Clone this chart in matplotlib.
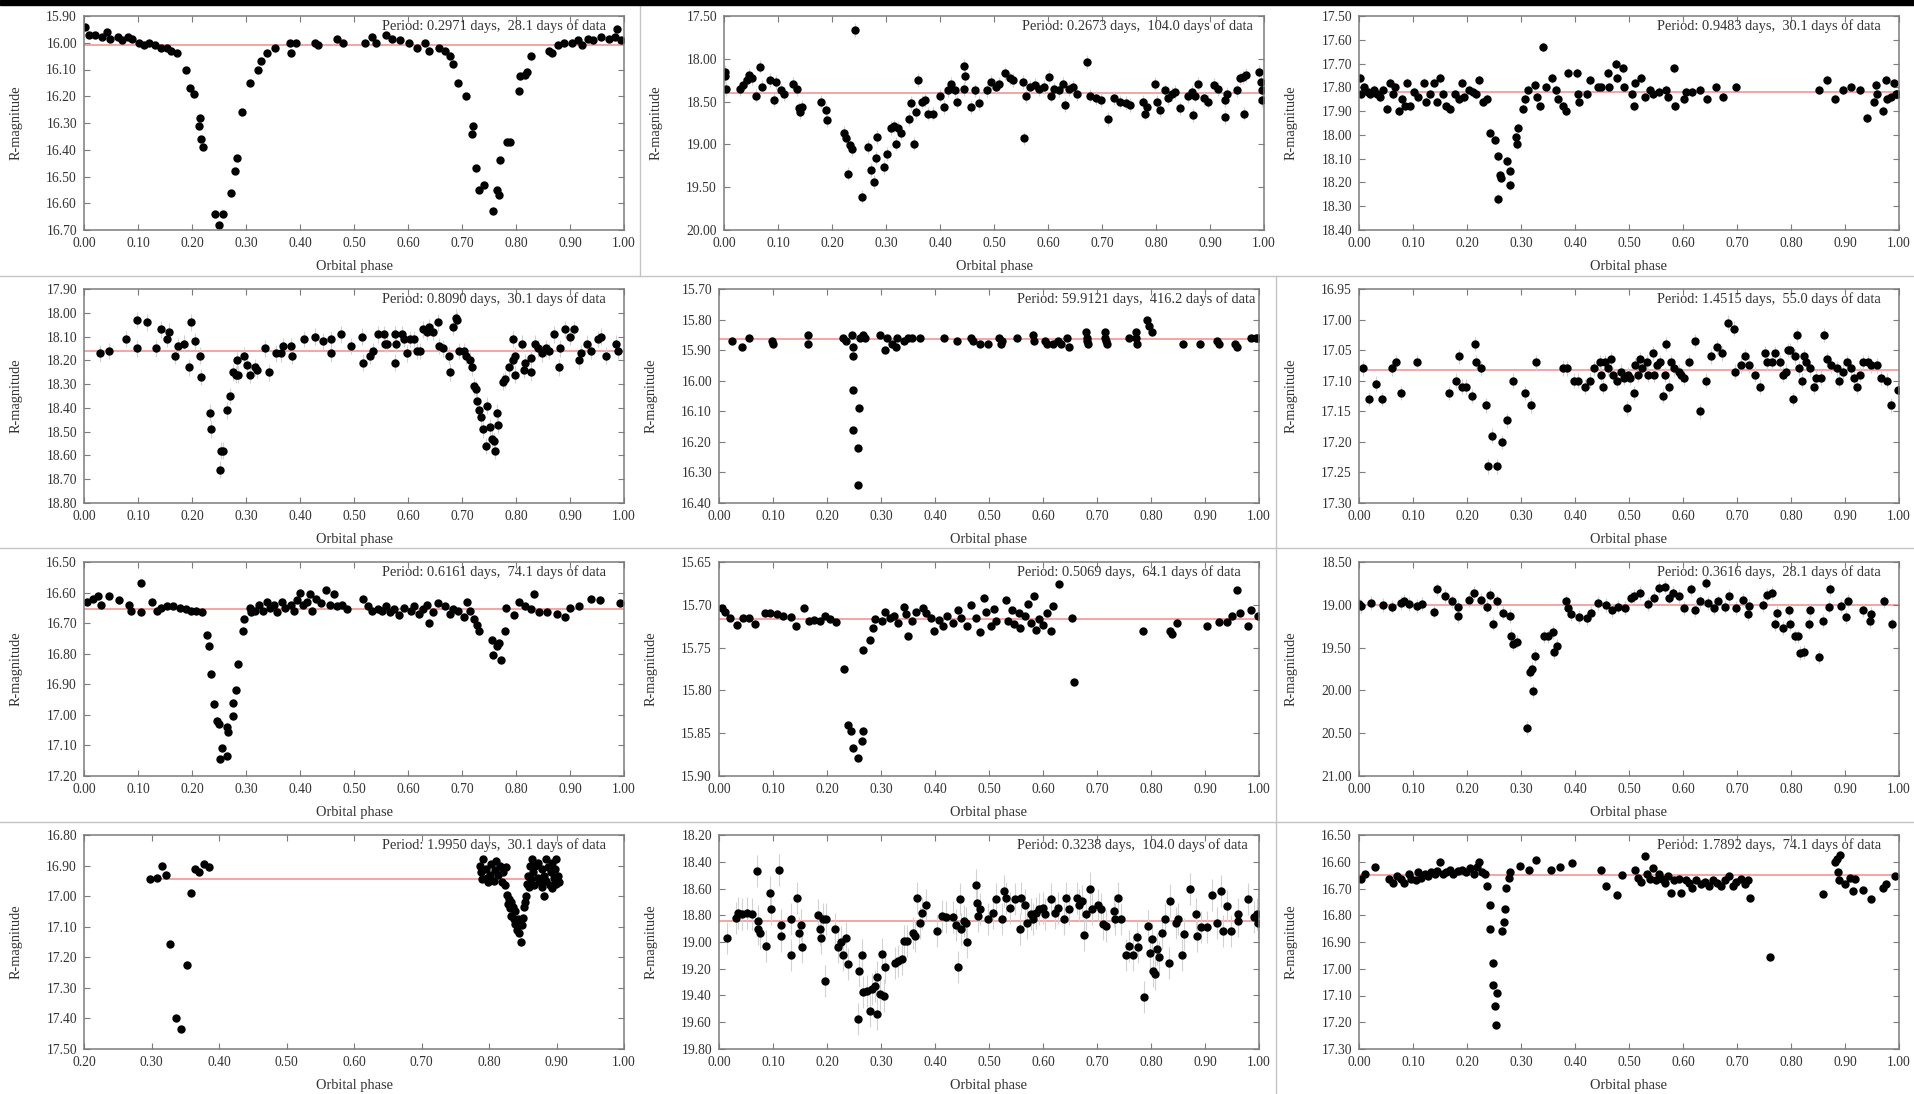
import numpy as np
import matplotlib.pyplot as plt
from matplotlib.lines import Line2D
from matplotlib.patches import Rectangle
from matplotlib.ticker import FormatStrFormatter

plt.rcParams['font.family'] = ['Liberation Serif', 'DejaVu Serif']

# folded light curves: (orbital phase, R magnitude)
curve_1 = [(0.002, 15.94), (0.010, 15.97), (0.021, 15.97), (0.033, 15.98), (0.042, 15.96), (0.048, 15.985),
           (0.063, 15.98), (0.070, 15.99), (0.082, 15.98), (0.089, 15.985), (0.101, 16.00), (0.112, 16.01),
           (0.120, 16.00), (0.131, 16.01), (0.142, 16.02), (0.154, 16.02), (0.161, 16.03), (0.173, 16.04),
           (0.188, 16.10), (0.197, 16.17), (0.203, 16.19), (0.214, 16.28), (0.213, 16.31), (0.216, 16.36),
           (0.220, 16.39), (0.242, 16.64), (0.250, 16.68), (0.258, 16.64), (0.273, 16.56), (0.279, 16.48),
           (0.284, 16.43), (0.292, 16.26), (0.307, 16.15), (0.323, 16.10), (0.328, 16.07), (0.338, 16.04),
           (0.353, 16.02), (0.381, 16.00), (0.383, 16.04), (0.392, 16.00), (0.427, 16.00), (0.434, 16.01),
           (0.468, 15.985), (0.480, 16.00), (0.521, 16.00), (0.533, 15.98), (0.540, 16.00), (0.559, 15.97),
           (0.570, 15.985), (0.586, 15.99), (0.601, 16.00), (0.616, 16.02), (0.631, 16.00), (0.639, 16.03),
           (0.658, 16.02), (0.669, 16.03), (0.677, 16.05), (0.684, 16.08), (0.692, 16.15), (0.707, 16.20),
           (0.720, 16.31), (0.718, 16.34), (0.726, 16.47), (0.731, 16.55), (0.741, 16.53), (0.758, 16.63),
           (0.764, 16.55), (0.769, 16.57), (0.771, 16.44), (0.783, 16.37), (0.789, 16.37), (0.805, 16.18),
           (0.807, 16.125), (0.817, 16.12), (0.820, 16.11), (0.828, 16.05), (0.862, 16.03), (0.866, 16.04),
           (0.877, 16.01), (0.889, 16.00), (0.904, 16.00), (0.915, 15.99), (0.923, 16.01), (0.934, 15.985),
           (0.942, 15.99), (0.957, 15.98), (0.972, 15.985), (0.983, 15.98), (0.987, 15.95), (0.995, 15.99)]

curve_2 = [(0.001, 18.15), (0.002, 18.20), (0.004, 18.35), (0.029, 18.35), (0.036, 18.31), (0.042, 18.25),
           (0.046, 18.19), (0.052, 18.23), (0.059, 18.43), (0.067, 18.09), (0.070, 18.33), (0.086, 18.25),
           (0.092, 18.48), (0.097, 18.27), (0.105, 18.37), (0.112, 18.41), (0.127, 18.29), (0.135, 18.35),
           (0.139, 18.58), (0.140, 18.62), (0.145, 18.56), (0.180, 18.50), (0.188, 18.60), (0.190, 18.72),
           (0.222, 18.87), (0.226, 18.93), (0.233, 19.01), (0.237, 19.05), (0.230, 19.34), (0.243, 17.66),
           (0.256, 19.61), (0.267, 19.03), (0.273, 19.30), (0.277, 19.44), (0.281, 19.16), (0.283, 18.91),
           (0.296, 19.26), (0.302, 19.11), (0.309, 18.81), (0.315, 18.79), (0.319, 18.99), (0.322, 18.81),
           (0.328, 18.87), (0.343, 18.70), (0.347, 18.52), (0.351, 18.99), (0.355, 18.62), (0.360, 18.25),
           (0.366, 18.50), (0.373, 18.48), (0.377, 18.64), (0.387, 18.64), (0.400, 18.43), (0.408, 18.56),
           (0.415, 18.37), (0.420, 18.29), (0.427, 18.37), (0.432, 18.50), (0.445, 18.08), (0.447, 18.20),
           (0.444, 18.35), (0.458, 18.56), (0.464, 18.37), (0.472, 18.52), (0.487, 18.37), (0.495, 18.27),
           (0.503, 18.33), (0.510, 18.29), (0.521, 18.17), (0.529, 18.23), (0.536, 18.25), (0.553, 18.27),
           (0.555, 18.93), (0.559, 18.44), (0.567, 18.33), (0.575, 18.31), (0.583, 18.35), (0.593, 18.33),
           (0.601, 18.21), (0.605, 18.43), (0.612, 18.35), (0.620, 18.37), (0.627, 18.29), (0.631, 18.54),
           (0.639, 18.35), (0.646, 18.33), (0.654, 18.41), (0.673, 18.04), (0.677, 18.43), (0.688, 18.46),
           (0.699, 18.48), (0.711, 18.70), (0.722, 18.46), (0.733, 18.50), (0.745, 18.52), (0.752, 18.54),
           (0.775, 18.50), (0.780, 18.64), (0.783, 18.56), (0.798, 18.29), (0.802, 18.50), (0.807, 18.60),
           (0.817, 18.37), (0.823, 18.46), (0.830, 18.41), (0.836, 18.39), (0.845, 18.58), (0.859, 18.44),
           (0.866, 18.39), (0.868, 18.66), (0.873, 18.43), (0.877, 18.29), (0.889, 18.46), (0.897, 18.50),
           (0.908, 18.31), (0.915, 18.35), (0.927, 18.68), (0.928, 18.48), (0.932, 18.41), (0.950, 18.37),
           (0.955, 18.23), (0.961, 18.21), (0.963, 18.64), (0.966, 18.19), (0.990, 18.15), (0.995, 18.27),
           (0.996, 18.37), (0.997, 18.48)]

curve_3 = [(0.001, 17.76), (0.004, 17.83), (0.010, 17.80), (0.016, 17.82), (0.021, 17.83), (0.027, 17.81),
           (0.033, 17.83), (0.039, 17.84), (0.044, 17.81), (0.052, 17.89), (0.057, 17.78), (0.063, 17.83),
           (0.067, 17.80), (0.074, 17.90), (0.080, 17.85), (0.086, 17.88), (0.089, 17.78), (0.095, 17.88),
           (0.101, 17.82), (0.110, 17.84), (0.120, 17.78), (0.125, 17.86), (0.131, 17.83), (0.139, 17.78),
           (0.145, 17.86), (0.150, 17.76), (0.155, 17.83), (0.161, 17.88), (0.169, 17.89), (0.177, 17.83),
           (0.186, 17.85), (0.190, 17.78), (0.195, 17.84), (0.203, 17.81), (0.211, 17.82), (0.216, 17.83),
           (0.223, 17.77), (0.230, 17.86), (0.237, 17.85), (0.243, 17.99), (0.251, 18.02), (0.258, 18.09),
           (0.261, 18.17), (0.263, 18.18), (0.258, 18.27), (0.275, 18.11), (0.280, 18.15), (0.279, 18.21),
           (0.290, 18.01), (0.292, 18.04), (0.295, 17.97), (0.304, 17.89), (0.307, 17.85), (0.313, 17.81),
           (0.326, 17.79), (0.330, 17.84), (0.336, 17.88), (0.341, 17.63), (0.347, 17.80), (0.357, 17.76),
           (0.365, 17.81), (0.369, 17.85), (0.377, 17.88), (0.383, 17.90), (0.387, 17.74), (0.404, 17.74),
           (0.405, 17.83), (0.408, 17.86), (0.423, 17.83), (0.428, 17.77), (0.442, 17.80), (0.449, 17.80),
           (0.461, 17.74), (0.463, 17.80), (0.476, 17.70), (0.477, 17.76), (0.489, 17.72), (0.491, 17.80),
           (0.506, 17.83), (0.510, 17.88), (0.511, 17.78), (0.523, 17.76), (0.529, 17.84), (0.539, 17.81),
           (0.544, 17.83), (0.555, 17.82), (0.569, 17.81), (0.572, 17.84), (0.584, 17.72), (0.586, 17.88),
           (0.601, 17.85), (0.605, 17.82), (0.616, 17.82), (0.631, 17.81), (0.645, 17.85), (0.661, 17.80),
           (0.674, 17.84), (0.699, 17.80), (0.851, 17.81), (0.866, 17.77), (0.881, 17.85), (0.896, 17.81),
           (0.911, 17.80), (0.927, 17.81), (0.940, 17.93), (0.953, 17.86), (0.958, 17.79), (0.960, 17.83),
           (0.970, 17.90), (0.976, 17.77), (0.978, 17.85), (0.986, 17.84), (0.991, 17.78), (0.994, 17.83),
           (0.996, 17.83)]

curve_4 = [(0.029, 18.17), (0.046, 18.16), (0.078, 18.11), (0.098, 18.03), (0.099, 18.15), (0.116, 18.04),
           (0.133, 18.15), (0.142, 18.07), (0.154, 18.11), (0.158, 18.08), (0.169, 18.18), (0.174, 18.14),
           (0.186, 18.13), (0.194, 18.23), (0.199, 18.04), (0.205, 18.12), (0.214, 18.18), (0.217, 18.27),
           (0.233, 18.42), (0.235, 18.49), (0.251, 18.66), (0.254, 18.58), (0.258, 18.58), (0.264, 18.41),
           (0.270, 18.35), (0.275, 18.25), (0.281, 18.26), (0.284, 18.20), (0.286, 18.26), (0.296, 18.18),
           (0.302, 18.22), (0.307, 18.26), (0.317, 18.23), (0.320, 18.24), (0.336, 18.15), (0.343, 18.25),
           (0.355, 18.17), (0.364, 18.17), (0.368, 18.14), (0.383, 18.14), (0.385, 18.18), (0.408, 18.11),
           (0.427, 18.10), (0.442, 18.12), (0.457, 18.17), (0.458, 18.11), (0.476, 18.09), (0.495, 18.14),
           (0.514, 18.10), (0.517, 18.21), (0.530, 18.18), (0.536, 18.16), (0.545, 18.09), (0.555, 18.09),
           (0.557, 18.13), (0.561, 18.13), (0.575, 18.09), (0.576, 18.21), (0.578, 18.13), (0.589, 18.09),
           (0.593, 18.11), (0.599, 18.17), (0.603, 18.11), (0.612, 18.11), (0.616, 18.16), (0.623, 18.16),
           (0.627, 18.07), (0.635, 18.08), (0.639, 18.06), (0.646, 18.08), (0.655, 18.04), (0.658, 18.14),
           (0.665, 18.15), (0.675, 18.18), (0.677, 18.25), (0.684, 18.06), (0.688, 18.02), (0.690, 18.03),
           (0.695, 18.16), (0.703, 18.16), (0.708, 18.18), (0.714, 18.20), (0.718, 18.23), (0.722, 18.31),
           (0.726, 18.32), (0.728, 18.37), (0.731, 18.41), (0.736, 18.44), (0.739, 18.49), (0.744, 18.56),
           (0.747, 18.39), (0.751, 18.48), (0.756, 18.53), (0.760, 18.54), (0.762, 18.58), (0.765, 18.42),
           (0.767, 18.47), (0.775, 18.29), (0.780, 18.28), (0.787, 18.23), (0.794, 18.20), (0.795, 18.11),
           (0.798, 18.26), (0.799, 18.18), (0.811, 18.13), (0.815, 18.24), (0.817, 18.21), (0.827, 18.25),
           (0.828, 18.19), (0.836, 18.13), (0.840, 18.15), (0.849, 18.17), (0.855, 18.15), (0.861, 18.16),
           (0.870, 18.09), (0.880, 18.23), (0.882, 18.15), (0.890, 18.07), (0.900, 18.10), (0.908, 18.07),
           (0.917, 18.20), (0.920, 18.17), (0.932, 18.13), (0.939, 18.16), (0.951, 18.11), (0.957, 18.10),
           (0.967, 18.18), (0.986, 18.13), (0.989, 18.16)]

curve_5 = [(0.024, 15.87), (0.042, 15.89), (0.056, 15.86), (0.098, 15.87), (0.100, 15.88), (0.164, 15.85),
           (0.164, 15.88), (0.230, 15.86), (0.236, 15.87), (0.246, 15.85), (0.248, 15.89), (0.249, 15.92),
           (0.249, 16.03), (0.259, 16.09), (0.249, 16.16), (0.258, 16.22), (0.257, 16.34), (0.261, 15.86),
           (0.267, 15.85), (0.270, 15.86), (0.299, 15.85), (0.308, 15.90), (0.312, 15.86), (0.320, 15.88),
           (0.327, 15.89), (0.330, 15.86), (0.342, 15.87), (0.350, 15.86), (0.358, 15.86), (0.373, 15.86),
           (0.416, 15.86), (0.441, 15.87), (0.467, 15.86), (0.471, 15.87), (0.483, 15.88), (0.498, 15.88),
           (0.519, 15.86), (0.522, 15.88), (0.524, 15.87), (0.551, 15.86), (0.581, 15.85), (0.583, 15.87),
           (0.604, 15.87), (0.608, 15.88), (0.619, 15.88), (0.627, 15.87), (0.634, 15.88), (0.645, 15.86),
           (0.648, 15.89), (0.680, 15.84), (0.682, 15.86), (0.684, 15.88), (0.681, 15.87), (0.714, 15.84),
           (0.716, 15.87), (0.718, 15.88), (0.715, 15.86), (0.759, 15.86), (0.772, 15.84), (0.774, 15.88),
           (0.773, 15.86), (0.793, 15.80), (0.797, 15.82), (0.801, 15.84), (0.860, 15.88), (0.890, 15.88),
           (0.922, 15.87), (0.926, 15.88), (0.956, 15.88), (0.960, 15.89), (0.986, 15.86), (0.994, 15.86),
           (0.999, 15.86)]

curve_6 = [(0.008, 17.08), (0.019, 17.13), (0.031, 17.105), (0.042, 17.13), (0.061, 17.08), (0.069, 17.07),
           (0.078, 17.12), (0.108, 17.07), (0.167, 17.12), (0.179, 17.10), (0.186, 17.06), (0.190, 17.11),
           (0.199, 17.11), (0.209, 17.125), (0.214, 17.04), (0.217, 17.07), (0.226, 17.08), (0.236, 17.14),
           (0.239, 17.24), (0.246, 17.19), (0.256, 17.24), (0.265, 17.20), (0.275, 17.165), (0.286, 17.10),
           (0.308, 17.12), (0.318, 17.14), (0.327, 17.07), (0.377, 17.08), (0.385, 17.08), (0.398, 17.10),
           (0.405, 17.10), (0.419, 17.11), (0.427, 17.10), (0.436, 17.08), (0.446, 17.07), (0.449, 17.09),
           (0.451, 17.11), (0.456, 17.07), (0.462, 17.08), (0.466, 17.065), (0.470, 17.09), (0.478, 17.10),
           (0.486, 17.085), (0.491, 17.095), (0.497, 17.145), (0.499, 17.09), (0.502, 17.095), (0.510, 17.12),
           (0.511, 17.075), (0.517, 17.09), (0.521, 17.065), (0.525, 17.08), (0.533, 17.07), (0.536, 17.09),
           (0.544, 17.055), (0.547, 17.09), (0.551, 17.075), (0.558, 17.07), (0.563, 17.125), (0.567, 17.09),
           (0.569, 17.04), (0.574, 17.11), (0.578, 17.07), (0.584, 17.08), (0.592, 17.085), (0.597, 17.09),
           (0.601, 17.095), (0.612, 17.07), (0.622, 17.035), (0.631, 17.15), (0.643, 17.10), (0.652, 17.06),
           (0.663, 17.045), (0.673, 17.055), (0.684, 17.005), (0.695, 17.015), (0.697, 17.085), (0.707, 17.075),
           (0.714, 17.06), (0.723, 17.075), (0.733, 17.09), (0.743, 17.11), (0.752, 17.055), (0.756, 17.07),
           (0.764, 17.07), (0.771, 17.055), (0.779, 17.07), (0.786, 17.09), (0.790, 17.085), (0.794, 17.05),
           (0.799, 17.05), (0.804, 17.13), (0.807, 17.06), (0.811, 17.025), (0.814, 17.08), (0.820, 17.10),
           (0.824, 17.06), (0.828, 17.07), (0.836, 17.08), (0.843, 17.11), (0.847, 17.095), (0.855, 17.095),
           (0.862, 17.025), (0.866, 17.065), (0.874, 17.075), (0.885, 17.08), (0.889, 17.10), (0.896, 17.085),
           (0.904, 17.07), (0.911, 17.08), (0.917, 17.095), (0.923, 17.11), (0.928, 17.09), (0.934, 17.07),
           (0.942, 17.07), (0.949, 17.075), (0.960, 17.075), (0.967, 17.095), (0.977, 17.10), (0.986, 17.14),
           (0.998, 17.115)]

curve_7 = [(0.006, 16.63), (0.017, 16.62), (0.025, 16.61), (0.031, 16.64), (0.046, 16.61), (0.064, 16.625),
           (0.084, 16.64), (0.087, 16.66), (0.105, 16.57), (0.105, 16.665), (0.125, 16.63), (0.135, 16.66),
           (0.142, 16.65), (0.154, 16.645), (0.165, 16.645), (0.177, 16.65), (0.188, 16.655), (0.199, 16.66),
           (0.207, 16.66), (0.218, 16.665), (0.228, 16.74), (0.231, 16.775), (0.236, 16.865), (0.241, 16.965),
           (0.246, 17.02), (0.250, 17.03), (0.252, 17.145), (0.256, 17.11), (0.264, 17.135), (0.265, 17.04),
           (0.267, 17.055), (0.275, 17.005), (0.276, 16.96), (0.281, 16.92), (0.286, 16.835), (0.295, 16.725),
           (0.296, 16.685), (0.307, 16.65), (0.309, 16.665), (0.317, 16.66), (0.324, 16.64), (0.332, 16.66),
           (0.339, 16.63), (0.345, 16.65), (0.352, 16.64), (0.358, 16.665), (0.366, 16.63), (0.373, 16.65),
           (0.383, 16.64), (0.389, 16.66), (0.395, 16.625), (0.400, 16.60), (0.405, 16.64), (0.413, 16.63),
           (0.419, 16.605), (0.423, 16.66), (0.430, 16.62), (0.438, 16.635), (0.449, 16.59), (0.455, 16.64),
           (0.463, 16.605), (0.468, 16.645), (0.478, 16.64), (0.487, 16.655), (0.516, 16.62), (0.525, 16.645),
           (0.534, 16.66), (0.544, 16.655), (0.552, 16.66), (0.559, 16.645), (0.567, 16.665), (0.574, 16.655),
           (0.584, 16.675), (0.593, 16.65), (0.605, 16.66), (0.612, 16.645), (0.620, 16.67), (0.627, 16.655),
           (0.635, 16.64), (0.639, 16.70), (0.646, 16.665), (0.655, 16.635), (0.669, 16.645), (0.677, 16.67),
           (0.684, 16.655), (0.692, 16.66), (0.703, 16.68), (0.709, 16.63), (0.714, 16.66), (0.722, 16.685),
           (0.728, 16.705), (0.731, 16.725), (0.756, 16.755), (0.757, 16.805), (0.764, 16.775), (0.769, 16.765),
           (0.773, 16.82), (0.779, 16.725), (0.781, 16.65), (0.796, 16.675), (0.805, 16.63), (0.817, 16.645),
           (0.827, 16.655), (0.834, 16.605), (0.843, 16.665), (0.858, 16.665), (0.875, 16.67), (0.890, 16.68),
           (0.900, 16.65), (0.917, 16.645), (0.938, 16.62), (0.955, 16.625), (0.993, 16.635)]

curve_8 = [(0.005, 15.704), (0.011, 15.708), (0.020, 15.715), (0.034, 15.724), (0.045, 15.715), (0.055, 15.715),
           (0.067, 15.723), (0.085, 15.709), (0.095, 15.709), (0.108, 15.711), (0.119, 15.713), (0.133, 15.714),
           (0.142, 15.725), (0.157, 15.704), (0.166, 15.719), (0.176, 15.718), (0.187, 15.719), (0.196, 15.713),
           (0.206, 15.717), (0.217, 15.720), (0.231, 15.775), (0.239, 15.840), (0.244, 15.848), (0.248, 15.867),
           (0.257, 15.879), (0.265, 15.859), (0.266, 15.848), (0.267, 15.753), (0.280, 15.741), (0.286, 15.727),
           (0.289, 15.717), (0.301, 15.719), (0.307, 15.708), (0.316, 15.715), (0.324, 15.713), (0.331, 15.721),
           (0.342, 15.702), (0.346, 15.711), (0.350, 15.736), (0.358, 15.719), (0.365, 15.708), (0.377, 15.704),
           (0.384, 15.709), (0.393, 15.715), (0.398, 15.731), (0.407, 15.718), (0.414, 15.725), (0.422, 15.713),
           (0.433, 15.721), (0.443, 15.706), (0.448, 15.716), (0.460, 15.725), (0.467, 15.700), (0.475, 15.715),
           (0.484, 15.732), (0.490, 15.692), (0.494, 15.708), (0.504, 15.725), (0.509, 15.705), (0.513, 15.719),
           (0.532, 15.694), (0.536, 15.719), (0.543, 15.706), (0.547, 15.723), (0.555, 15.709), (0.558, 15.727),
           (0.566, 15.713), (0.573, 15.699), (0.577, 15.721), (0.583, 15.690), (0.587, 15.729), (0.592, 15.717),
           (0.600, 15.724), (0.608, 15.709), (0.615, 15.731), (0.619, 15.701), (0.630, 15.676), (0.653, 15.716),
           (0.658, 15.790), (0.786, 15.731), (0.835, 15.731), (0.839, 15.734), (0.848, 15.721), (0.903, 15.725),
           (0.926, 15.720), (0.941, 15.720), (0.950, 15.713), (0.960, 15.683), (0.964, 15.709), (0.979, 15.725),
           (0.986, 15.706), (0.999, 15.713)]

curve_9 = [(0.000, 18.99), (0.004, 19.01), (0.023, 18.98), (0.044, 19.00), (0.061, 19.02), (0.077, 18.98),
           (0.084, 18.95), (0.093, 18.99), (0.107, 19.01), (0.117, 18.99), (0.139, 19.08), (0.144, 18.82),
           (0.160, 18.90), (0.173, 18.96), (0.183, 19.13), (0.184, 19.02), (0.203, 18.94), (0.213, 18.86),
           (0.226, 18.94), (0.237, 19.02), (0.243, 18.88), (0.248, 19.22), (0.256, 18.96), (0.267, 19.09),
           (0.279, 19.13), (0.281, 19.36), (0.286, 19.46), (0.292, 19.43), (0.311, 20.44), (0.317, 19.78),
           (0.320, 19.75), (0.322, 20.01), (0.326, 19.60), (0.342, 19.37), (0.350, 19.37), (0.359, 19.32),
           (0.361, 19.55), (0.366, 19.48), (0.383, 18.96), (0.387, 19.04), (0.392, 19.11), (0.408, 19.14),
           (0.423, 19.16), (0.430, 19.09), (0.442, 18.98), (0.457, 19.00), (0.468, 19.06), (0.480, 19.02),
           (0.492, 19.04), (0.503, 18.92), (0.510, 18.90), (0.521, 18.86), (0.536, 18.99), (0.546, 18.92),
           (0.555, 18.80), (0.567, 18.79), (0.574, 18.92), (0.582, 18.86), (0.593, 18.90), (0.601, 19.04),
           (0.614, 18.82), (0.623, 19.06), (0.631, 18.96), (0.642, 18.74), (0.646, 18.98), (0.658, 19.04),
           (0.665, 18.96), (0.677, 19.02), (0.686, 18.90), (0.699, 19.04), (0.711, 18.94), (0.720, 19.11),
           (0.723, 19.01), (0.748, 19.00), (0.756, 18.88), (0.764, 18.86), (0.771, 19.23), (0.775, 19.09),
           (0.786, 19.27), (0.796, 19.06), (0.799, 19.23), (0.807, 19.37), (0.813, 19.37), (0.817, 19.56),
           (0.825, 19.55), (0.834, 19.22), (0.836, 19.06), (0.852, 19.61), (0.859, 19.19), (0.870, 19.02),
           (0.872, 18.82), (0.892, 19.01), (0.902, 19.14), (0.905, 18.95), (0.934, 19.06), (0.946, 19.19),
           (0.948, 19.11), (0.973, 18.96), (0.987, 19.23)]

curve_10 = [(0.298, 16.945), (0.308, 16.94), (0.316, 16.90), (0.322, 16.93), (0.328, 17.155), (0.336, 17.40),
            (0.343, 17.435), (0.352, 17.225), (0.358, 16.99), (0.365, 16.91), (0.370, 16.92), (0.378, 16.895),
            (0.385, 16.905), (0.787, 16.90), (0.788, 16.92), (0.790, 16.945), (0.791, 16.88), (0.796, 16.91),
            (0.797, 16.94), (0.799, 16.955), (0.802, 16.93), (0.803, 16.895), (0.807, 16.95), (0.809, 16.915),
            (0.811, 16.885), (0.814, 16.93), (0.817, 16.90), (0.819, 16.955), (0.821, 16.92), (0.823, 16.965),
            (0.825, 16.905), (0.826, 16.995), (0.828, 17.025), (0.829, 17.01), (0.831, 17.04), (0.832, 17.02),
            (0.833, 17.065), (0.835, 17.035), (0.837, 17.075), (0.838, 17.05), (0.839, 17.09), (0.841, 17.11),
            (0.843, 17.075), (0.844, 17.12), (0.845, 17.085), (0.847, 17.15), (0.849, 17.095), (0.850, 17.07),
            (0.852, 17.035), (0.853, 17.02), (0.855, 17.00), (0.856, 16.96), (0.858, 16.935), (0.859, 16.97),
            (0.861, 16.90), (0.862, 16.945), (0.864, 16.88), (0.865, 16.92), (0.867, 16.965), (0.868, 16.90),
            (0.872, 16.94), (0.873, 16.89), (0.875, 16.955), (0.878, 16.91), (0.879, 16.97), (0.881, 17.00),
            (0.882, 16.935), (0.884, 16.88), (0.885, 16.95), (0.887, 16.905), (0.890, 16.965), (0.892, 16.92),
            (0.893, 16.89), (0.894, 16.975), (0.896, 16.94), (0.898, 16.91), (0.899, 16.96), (0.900, 16.88),
            (0.902, 16.935), (0.904, 16.955)]

curve_11 = [(0.014, 18.97), (0.032, 18.82), (0.036, 18.78), (0.043, 18.79), (0.052, 18.785), (0.062, 18.79),
            (0.070, 18.47), (0.072, 18.84), (0.073, 18.90), (0.075, 18.93), (0.087, 19.03), (0.095, 18.63),
            (0.096, 18.755), (0.111, 18.46), (0.114, 18.87), (0.115, 18.955), (0.133, 18.83), (0.134, 19.10),
            (0.145, 18.67), (0.148, 18.93), (0.151, 18.87), (0.153, 19.04), (0.183, 18.80), (0.187, 18.90),
            (0.188, 18.97), (0.192, 18.83), (0.196, 19.29), (0.198, 18.83), (0.214, 18.90), (0.221, 19.04),
            (0.225, 19.00), (0.229, 19.10), (0.236, 18.97), (0.239, 19.165), (0.259, 19.215), (0.258, 19.575),
            (0.264, 19.10), (0.267, 19.375), (0.274, 19.365), (0.280, 19.515), (0.284, 19.35), (0.289, 19.33),
            (0.292, 19.54), (0.293, 19.265), (0.299, 19.39), (0.302, 19.09), (0.305, 19.40), (0.307, 19.19),
            (0.325, 19.155), (0.331, 19.14), (0.339, 19.13), (0.342, 18.99), (0.348, 18.99), (0.360, 18.93),
            (0.363, 18.955), (0.367, 18.67), (0.373, 18.855), (0.375, 18.78), (0.383, 18.72), (0.403, 18.915),
            (0.413, 18.805), (0.420, 18.81), (0.433, 18.815), (0.439, 18.875), (0.443, 19.19), (0.446, 18.68),
            (0.448, 18.905), (0.454, 18.84), (0.458, 18.855), (0.460, 19.00), (0.475, 18.575), (0.477, 18.705),
            (0.479, 18.805), (0.484, 18.75), (0.498, 18.83), (0.507, 18.78), (0.513, 18.68), (0.524, 18.825),
            (0.527, 18.62), (0.532, 18.67), (0.539, 18.745), (0.549, 18.68), (0.557, 18.905), (0.560, 18.67),
            (0.566, 18.725), (0.570, 18.855), (0.578, 18.79), (0.581, 18.83), (0.587, 18.78), (0.592, 18.755),
            (0.600, 18.745), (0.604, 18.79), (0.615, 18.68), (0.623, 18.78), (0.627, 18.745), (0.638, 18.83),
            (0.643, 18.67), (0.649, 18.755), (0.663, 18.67), (0.666, 18.725), (0.672, 18.695), (0.676, 18.95),
            (0.680, 18.79), (0.687, 18.60), (0.691, 18.75), (0.702, 18.72), (0.708, 18.75), (0.712, 18.865),
            (0.717, 18.88), (0.731, 18.77), (0.734, 18.825), (0.739, 18.67), (0.744, 18.83), (0.754, 19.10),
            (0.759, 19.03), (0.767, 19.10), (0.774, 18.96), (0.776, 19.04), (0.787, 19.41), (0.795, 18.88),
            (0.799, 19.08), (0.802, 18.975), (0.803, 19.215), (0.807, 19.24), (0.812, 19.055), (0.814, 19.11),
            (0.820, 18.93), (0.825, 18.825), (0.833, 19.16), (0.836, 18.69), (0.846, 18.86), (0.850, 18.83),
            (0.858, 19.10), (0.861, 18.94), (0.873, 18.605), (0.884, 18.79), (0.885, 18.955), (0.892, 18.89),
            (0.903, 18.89), (0.913, 18.65), (0.922, 18.855), (0.930, 18.62), (0.933, 18.915), (0.941, 18.73),
            (0.948, 18.915), (0.961, 18.79), (0.962, 18.84), (0.979, 18.68), (0.990, 18.81), (0.996, 18.79),
            (0.998, 18.855)]

curve_12 = [(0.004, 16.665), (0.011, 16.645), (0.029, 16.62), (0.055, 16.665), (0.063, 16.68), (0.070, 16.655),
            (0.078, 16.665), (0.084, 16.68), (0.092, 16.645), (0.097, 16.665), (0.105, 16.67), (0.110, 16.64),
            (0.114, 16.66), (0.122, 16.645), (0.127, 16.655), (0.133, 16.64), (0.140, 16.645), (0.145, 16.635),
            (0.150, 16.60), (0.155, 16.645), (0.161, 16.64), (0.169, 16.63), (0.175, 16.645), (0.183, 16.635),
            (0.190, 16.63), (0.198, 16.64), (0.205, 16.625), (0.213, 16.645), (0.218, 16.62), (0.223, 16.60),
            (0.228, 16.64), (0.233, 16.645), (0.237, 16.69), (0.242, 16.76), (0.243, 16.85), (0.248, 16.98),
            (0.249, 17.06), (0.256, 17.09), (0.252, 17.14), (0.254, 17.21), (0.264, 16.86), (0.269, 16.825),
            (0.271, 16.775), (0.273, 16.70), (0.277, 16.66), (0.279, 16.64), (0.298, 16.615), (0.314, 16.63),
            (0.328, 16.595), (0.355, 16.63), (0.372, 16.62), (0.395, 16.605), (0.449, 16.63), (0.458, 16.69),
            (0.477, 16.725), (0.487, 16.65), (0.511, 16.63), (0.517, 16.66), (0.523, 16.675), (0.529, 16.58),
            (0.533, 16.645), (0.539, 16.665), (0.544, 16.625), (0.550, 16.67), (0.555, 16.645), (0.561, 16.665),
            (0.567, 16.68), (0.572, 16.655), (0.578, 16.715), (0.584, 16.67), (0.592, 16.665), (0.597, 16.715),
            (0.605, 16.67), (0.612, 16.68), (0.617, 16.70), (0.625, 16.67), (0.633, 16.685), (0.640, 16.675),
            (0.648, 16.69), (0.655, 16.67), (0.663, 16.68), (0.670, 16.69), (0.678, 16.67), (0.686, 16.655),
            (0.692, 16.69), (0.699, 16.675), (0.707, 16.665), (0.714, 16.685), (0.720, 16.67), (0.724, 16.735),
            (0.761, 16.955), (0.860, 16.72), (0.881, 16.60), (0.885, 16.59), (0.890, 16.575), (0.887, 16.64),
            (0.888, 16.67), (0.900, 16.685), (0.910, 16.66), (0.919, 16.665), (0.915, 16.71), (0.933, 16.705),
            (0.948, 16.74), (0.970, 16.70), (0.976, 16.685), (0.992, 16.655)]

curves = [curve_1, curve_2, curve_3, curve_4, curve_5, curve_6,
          curve_7, curve_8, curve_9, curve_10, curve_11, curve_12]

periods = ['0.2971', '0.2673', '0.9483', '0.8090', '59.9121', '1.4515',
           '0.6161', '0.5069', '0.3616', '1.9950', '0.3238', '1.7892']
spans = ['28.1', '104.0', '30.1', '30.1', '416.2', '55.0',
         '74.1', '64.1', '28.1', '30.1', '104.0', '74.1']
baselines = [16.01, 18.40, 17.82, 18.16, 15.865, 17.082,
             16.655, 15.717, 19.00, 16.945, 18.84, 16.65]
mag_limits = [(15.90, 16.70), (17.50, 20.00), (17.50, 18.40), (17.90, 18.80), (15.70, 16.40), (16.95, 17.30),
              (16.50, 17.20), (15.65, 15.90), (18.50, 21.00), (16.80, 17.50), (18.20, 19.80), (16.50, 17.30)]
mag_steps = [0.1, 0.5, 0.1, 0.1, 0.1, 0.05, 0.1, 0.05, 0.5, 0.1, 0.2, 0.1]
phase_limits = [(0.0, 1.0)] * 9 + [(0.2, 1.0)] + [(0.0, 1.0)] * 2
baseline_spans = [(0.0, 1.0)] * 9 + [(0.30, 0.86)] + [(0.0, 1.0)] * 2
mag_errors = [0.006, 0.08, 0.02, 0.035, 0.006, 0.012, 0.012, 0.003, 0.08, 0.012, 0.12, 0.012]

W, H = 1915, 1094
fig = plt.figure(figsize=(W / 100, H / 100), dpi=100)

# panel frames in pixels
col_left = [[84, 724, 1359], [84, 719, 1359], [84, 719, 1359], [84, 719, 1359]]
row_top = [16, 289, 562, 835]
aw, ah = 540, 214

frame_col = '#7c7c7c'
text_col = '#333333'
for i in range(12):
    r, c = divmod(i, 3)
    ax = fig.add_axes([col_left[r][c] / W, 1 - (row_top[r] + ah) / H, aw / W, ah / H])
    ph, mg = zip(*curves[i])
    ax.plot(baseline_spans[i], [baselines[i]] * 2, color='#f3a5a5', lw=1.4, zorder=1)
    ax.errorbar(ph, mg, yerr=mag_errors[i], fmt='o', ms=5, color='black', mec='black',
                ecolor='#d2d2d2', elinewidth=0.8, capsize=0, zorder=2)
    x0, x1 = phase_limits[i]
    lo, hi = mag_limits[i]
    ax.set_xlim(x0, x1)
    ax.set_ylim(hi, lo)
    ax.set_xticks(np.arange(x0, x1 + 0.05, 0.1))
    ax.set_yticks(np.arange(lo, hi + mag_steps[i] / 2, mag_steps[i]))
    ax.xaxis.set_major_formatter(FormatStrFormatter('%.2f'))
    ax.yaxis.set_major_formatter(FormatStrFormatter('%.2f'))
    ax.tick_params(direction='in', top=True, right=True, length=4, width=0.8, color=frame_col,
                   labelsize=9.8, labelcolor=text_col, pad=5)
    for s in ax.spines.values():
        s.set_color(frame_col)
        s.set_linewidth(1.1)
    ax.set_xlabel('Orbital phase', fontsize=10.4, color=text_col)
    ax.set_ylabel('R-magnitude', fontsize=10.4, color=text_col)
    ax.xaxis.set_label_coords(0.5, -30 / ah)
    ax.yaxis.set_label_coords(-61 / aw, 0.5)
    ax.text(0.551, 0.952, f'Period: {periods[i]} days,  {spans[i]} days of data',
            transform=ax.transAxes, ha='left', va='center', fontsize=10.4, color=text_col)

# thin borders between the tiles and the dark strip along the top edge
sep = '#c4c4c4'
for y in [276, 548, 822]:
    fig.add_artist(Line2D([0, 1], [1 - y / H] * 2, color=sep, lw=1, transform=fig.transFigure))
fig.add_artist(Line2D([640 / W] * 2, [1 - 276 / H, 1], color=sep, lw=1, transform=fig.transFigure))
fig.add_artist(Line2D([1276 / W] * 2, [0, 1 - 276 / H], color=sep, lw=1, transform=fig.transFigure))
fig.add_artist(Rectangle((0, 1 - 5 / H), 1, 5 / H, color='black', transform=fig.transFigure, zorder=10))

fig.savefig('out.png', dpi=100)
